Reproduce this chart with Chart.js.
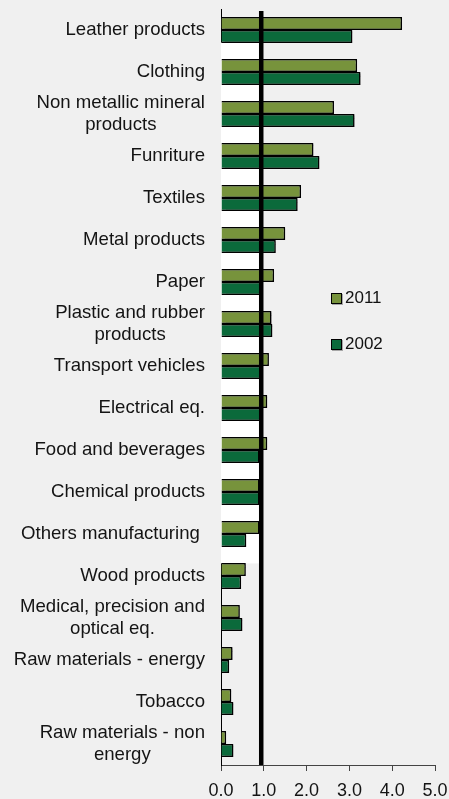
<!DOCTYPE html>
<html>
<head>
<meta charset="utf-8">
<script src="https://cdn.jsdelivr.net/npm/chart.js@4.4.1/dist/chart.umd.min.js"></script>
<style>
    html, body { margin: 0; padding: 0; background: #f0f0f0; }
    #wrap { position: relative; width: 449px; height: 799px; }
    #legend { position: absolute; left: 331px; top: 287px; font: 17px "Liberation Sans", Arial, sans-serif; color: #111; }
    .item { display: flex; align-items: center; height: 22px; margin-bottom: 24px; }
    .box { width: 9px; height: 9px; border: 1px solid #000; margin-right: 3px; box-shadow: 1px 1px 0 rgba(0,0,0,0.3); }
</style>
</head>
<body>
<div id="wrap">
    <canvas id="chart" width="449" height="799"></canvas>
    <div id="legend"></div>
</div>
<script>
// Sectors, top to bottom
const categories = [
    'Leather products',
    'Clothing',
    ['Non metallic mineral', 'products'],
    'Funriture',
    'Textiles',
    'Metal products',
    'Paper',
    ['Plastic and rubber', 'products'],
    'Transport vehicles',
    'Electrical eq.',
    'Food and beverages',
    'Chemical products',
    'Others manufacturing ',
    'Wood products',
    ['Medical, precision and', 'optical eq.'],
    'Raw materials - energy',
    'Tobacco',
    ['Raw materials - non', 'energy']
];

const values2011 = [4.23, 3.18, 2.64, 2.16, 1.87, 1.50, 1.24, 1.18, 1.12, 1.08, 1.08, 0.90, 0.90, 0.58, 0.44, 0.27, 0.24, 0.12];
const values2002 = [3.07, 3.26, 3.12, 2.30, 1.79, 1.28, 0.93, 1.20, 0.93, 0.97, 0.90, 0.90, 0.59, 0.47, 0.50, 0.19, 0.29, 0.29];

const xTicks = [0, 1, 2, 3, 4, 5];

// reference level and the rows it shades
const refValue = 0.94;
const bandFrom = 0.3;
const bandTo = 12.7;

const FONT = '"Liberation Sans", Arial, sans-serif';
Chart.defaults.font.family = FONT;

const refPlugin = {
    id: 'refLine',
    beforeDatasetsDraw(chart) {
        const { ctx, scales: { x, y } } = chart;
        const x0 = x.getPixelForValue(0);
        const x1 = x.getPixelForValue(refValue);
        const top = y.getPixelForValue(bandFrom);
        const bottom = y.getPixelForValue(bandTo);
        ctx.save();
        ctx.fillStyle = '#ffffff';
        ctx.fillRect(x0, top, x1 - x0, bottom - top);
        ctx.restore();

        // soft shadow under the bars
        ctx.save();
        ctx.shadowColor = 'rgba(0,0,0,0.35)';
        ctx.shadowOffsetX = 1.5;
        ctx.shadowOffsetY = 1.5;
        ctx.shadowBlur = 1;
    },
    afterDatasetsDraw(chart) {
        const { ctx, chartArea, scales: { x } } = chart;
        ctx.restore();
        const px = x.getPixelForValue(refValue);
        ctx.save();
        ctx.strokeStyle = '#000';
        ctx.lineWidth = 4.5;
        ctx.beginPath();
        ctx.moveTo(px, chartArea.top + 2);
        ctx.lineTo(px, chartArea.bottom);
        ctx.stroke();
        ctx.restore();
    }
};

// category labels: block right aligned, lines centred within the block
const labelPlugin = {
    id: 'rowLabels',
    afterDraw(chart) {
        const { ctx, scales: { x, y } } = chart;
        const lineH = 21.5;
        ctx.save();
        ctx.font = '18.6px ' + FONT;
        ctx.fillStyle = '#141414';
        ctx.textAlign = 'center';
        ctx.textBaseline = 'middle';
        chart.data.labels.forEach((label, i) => {
            const lines = Array.isArray(label) ? label : [label];
            const w = Math.max(...lines.map(l => ctx.measureText(l).width));
            const cx = x.left - 16 - w / 2;
            const cy = y.getPixelForValue(i) - (lines.length - 1) * lineH / 2;
            lines.forEach((l, k) => ctx.fillText(l, cx, cy + k * lineH));
        });
        ctx.restore();
    }
};

const chart = new Chart(document.getElementById('chart'), {
    type: 'bar',
    data: {
        labels: categories,
        datasets: [
            {
                label: '2011',
                data: values2011,
                backgroundColor: '#77933c',
                borderColor: '#000',
                borderWidth: 1.5
            },
            {
                label: '2002',
                data: values2002,
                backgroundColor: '#0b6a3b',
                borderColor: '#000',
                borderWidth: 1.5
            }
        ]
    },
    options: {
        responsive: false,
        animation: false,
        indexAxis: 'y',
        categoryPercentage: 0.62,
        barPercentage: 1.0,
        layout: { padding: { top: 9, right: 14, left: 0, bottom: 0 } },
        plugins: {
            legend: { display: false },
            tooltip: { enabled: false }
        },
        scales: {
            x: {
                min: 0,
                max: 5,
                afterBuildTicks(scale) {
                    scale.ticks = xTicks.map(v => ({ value: v }));
                },
                afterFit(scale) {
                    scale.height = 34;
                    // end labels may hang past the plot edge
                    scale.paddingLeft = 0;
                    scale.paddingRight = 0;
                },
                ticks: {
                    color: '#141414',
                    font: { size: 18 },
                    padding: 9,
                    callback: v => Number(v).toFixed(1)
                },
                grid: {
                    drawOnChartArea: false,
                    drawTicks: true,
                    tickLength: 6,
                    color: '#444'
                },
                border: { display: true, color: '#444', width: 1 }
            },
            y: {
                afterFit(scale) { scale.width = 221; },
                ticks: { display: false },
                grid: { display: false },
                border: { display: true, color: '#000', width: 1 }
            }
        }
    },
    plugins: [refPlugin, labelPlugin]
});

// legend built from the datasets
const legend = document.getElementById('legend');
chart.data.datasets.forEach(ds => {
    const item = document.createElement('div');
    item.className = 'item';
    const box = document.createElement('span');
    box.className = 'box';
    box.style.background = ds.backgroundColor;
    const txt = document.createElement('span');
    txt.textContent = ds.label;
    item.appendChild(box);
    item.appendChild(txt);
    legend.appendChild(item);
});
</script>
</body>
</html>
